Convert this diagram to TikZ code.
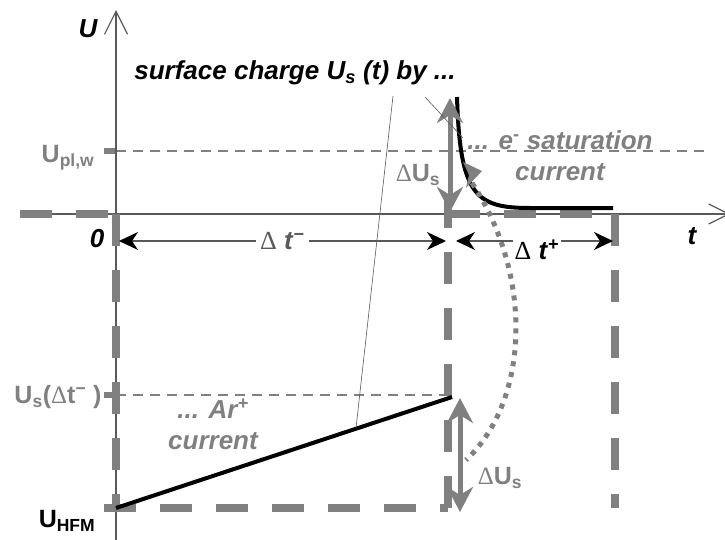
\documentclass[tikz,border=0pt]{standalone}
\usepackage{fontspec}
\setmainfont{Liberation Sans}
\newfontfamily\symfont{Liberation Serif}
\usetikzlibrary{arrows.meta, positioning, calc}

\definecolor{axisgray}{gray}{0.35}
\definecolor{wavegray}{gray}{0.5}

\tikzset{
  axisline/.style={axisgray, line width=1.2pt},
  wave/.style={wavegray, line width=8pt, dash pattern=on 32pt off 24pt},
  level/.style={wavegray, line width=1.8pt, dash pattern=on 10pt off 7pt},
  levtick/.style={wavegray, line width=6pt},
  charge/.style={black, line width=4pt},
  pointer/.style={axisgray, line width=0.6pt},
  dotcurve/.style={wavegray, line width=5pt, dash pattern=on 5pt off 6pt},
  dU/.style={wavegray, line width=5pt,
    {Stealth[length=25pt,width=26pt,inset=8pt]}-{Stealth[length=25pt,width=26pt,inset=8pt]}},
  dt/.style={axisgray, line width=1.2pt,
    {Stealth[black,length=19pt,width=18pt,inset=6pt]}-{Stealth[black,length=19pt,width=18pt,inset=6pt]}},
  lab/.style={font=\fontsize{26}{31}\selectfont\bfseries\itshape, inner sep=1pt},
  glab/.style={lab, wavegray},
  ulab/.style={font=\fontsize{25}{31}\selectfont\bfseries, inner sep=1pt},
}

\begin{document}
\begin{tikzpicture}[x=1pt, y=-1pt]
\useasboundingbox (0,0) rectangle (725,540);
% Key points
\coordinate (O) at (116,214);
\coordinate (Utop) at (116,10);
\coordinate (Ubot) at (116,540);
\coordinate (tstart) at (20,214);
\coordinate (tend) at (730,214);
\coordinate (W0) at (20,214);
\coordinate (W1) at (116,508);
\coordinate (W2) at (104,508);
\coordinate (W3) at (448,508);
\coordinate (W4) at (448,214);
\coordinate (W5) at (615,214);
\coordinate (W6) at (615,508);
% Levels
\draw[level] (116,151) -- (710,151);
\draw[level] (116,395) -- (448,395);
\draw[levtick] (104,151) -- (116,151);
\draw[levtick] (104,395) -- (116,395);
% Axes
\draw[axisline, -{Straight Barb[length=23pt,width=23pt]}] (Ubot) -- (Utop);
\draw[axisline, -{Straight Barb[length=20pt,width=20pt]}] (tstart) -- (tend);
% HF square wave
\draw[wave] (W0) -- (110,214);
\draw[wave] (O) -- (W1);
\draw[wave] (W2) -- (W3);
\draw[wave] (W4) ++(0,-18) -- (W3);
\draw[wave] (W4) -- (W5);
\draw[wave] (W5) -- (W6);
% Surface charge
\coordinate (Ar1) at (452,397);
\coordinate (S0) at (457,97);
\coordinate (S1) at (530,208);
\coordinate (S2) at (613,208);
\draw[charge] (W1) -- (Ar1);
\draw[charge] (S0) .. controls (460,195) and (475,208) .. (S1) -- (S2);
% Charge exchange
\coordinate (D0) at (472,183);
\coordinate (D1) at (466,460);
\draw[dotcurve] (D0) .. controls (533,275) and (530,400) .. (D1);
\fill[wavegray] (482,171) -- (463,162) -- (469,175) -- (466,188) -- cycle;
\coordinate (dUa) at (450,98);
\coordinate (dUb) at (450,212);
\coordinate (dUc) at (460,398);
\coordinate (dUd) at (460,512);
\draw[dU] (dUa) -- (dUb);
\draw[dU] (dUc) -- (dUd);
% Time intervals
\coordinate (tm0) at (119,241);
\coordinate (tm1) at (446,241);
\coordinate (tp0) at (456,241);
\coordinate (tp1) at (613,241);
\draw[dt] (tm0) -- node[fill=white, inner sep=4pt, font=\fontsize{26}{31}\selectfont]
  {{\symfont Δ} \textbf{\textit{t}}\textsuperscript{\textbf{−}}} (tm1);
\draw[dt] (tp0) -- (tp1);
\node[fill=white, inner sep=2pt, font=\fontsize{26}{31}\selectfont] (dtp) at (537,250)
  {{\symfont Δ} \textbf{\textit{t}}\textsuperscript{\textbf{+}}};
% Labels
\node[lab] (title) at (295,73) {surface charge U\textsubscript{s} (t) by ...};
\coordinate (P1) at (356,428);
\coordinate (P2) at (463,138);
\draw[pointer] (393,96) -- (P1);
\draw[pointer] (425,97) -- (P2);
\node[lab] (Ulab) at (88,29) {U};
\node[lab] (tlab) at (692,236) {t};
\node[lab] (zero) at (97,239) {0};
\node[ulab, wavegray] (Upl) at (68,158) {U\textsubscript{pl,w}};
\node[ulab, wavegray] (Usd) at (58,397) {U\textsubscript{s}({\mdseries\symfont Δ}t\textsuperscript{−} )};
\node[ulab] (Uhfm) at (67,521) {U\textsubscript{HFM}};
\node[ulab, wavegray] (dUup) at (418,175) {{\mdseries\symfont Δ}U\textsubscript{s}};
\node[ulab, wavegray] (dUlo) at (500,478) {{\mdseries\symfont Δ}U\textsubscript{s}};
\node[glab, align=center] (esat) at (560,156) {... e\textsuperscript{-} saturation\\current};
\node[glab, align=center] (arcur) at (213,424) {... Ar\textsuperscript{+}\\current};
\end{tikzpicture}
\end{document}
